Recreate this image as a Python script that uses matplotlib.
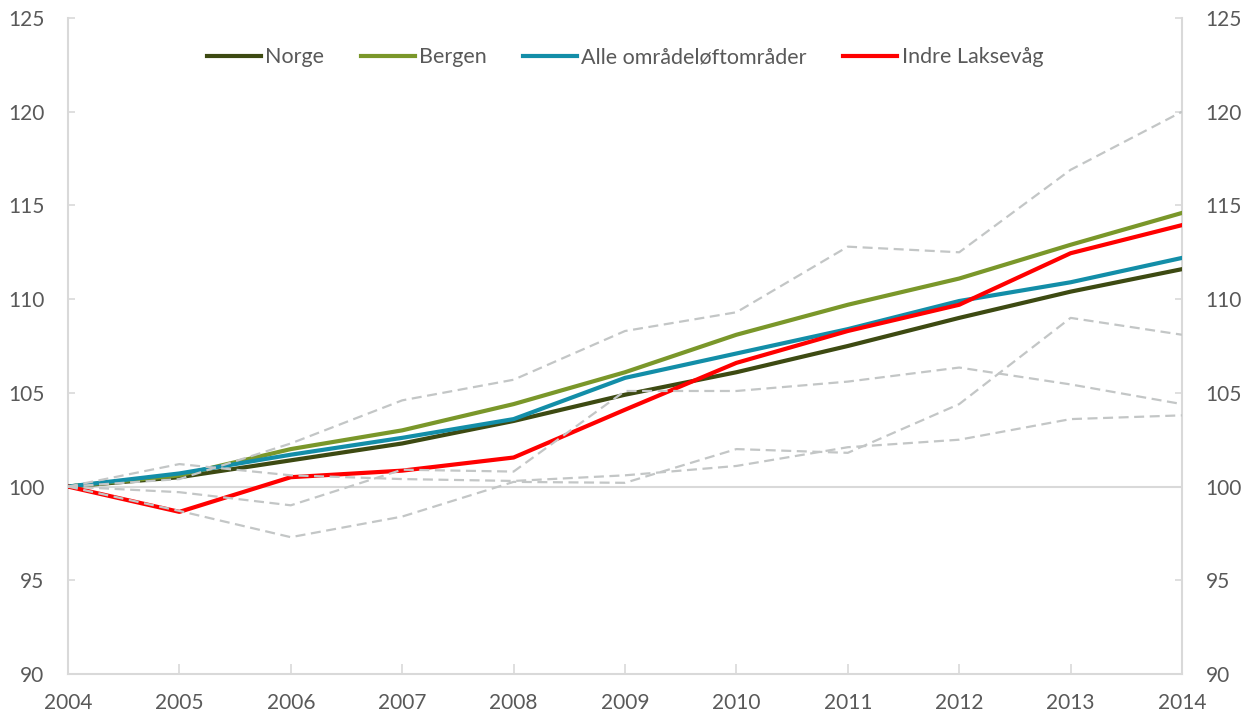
import numpy as np
import matplotlib.pyplot as plt

# years on the x axis
years = [2004, 2005, 2006, 2007, 2008, 2009, 2010, 2011, 2012, 2013, 2014]

# index values (2004 = 100)
norge = [100, 100.5, 101.4, 102.3, 103.5, 104.9, 106.1, 107.5, 109.0, 110.4, 111.6]
bergen = [100, 100.6, 102.0, 103.0, 104.4, 106.1, 108.1, 109.7, 111.1, 112.9, 114.6]
alle = [100, 100.7, 101.7, 102.6, 103.6, 105.8, 107.1, 108.4, 109.9, 110.9, 112.2]
indre = [100, 98.65, 100.5, 100.85, 101.55, 104.1, 106.6, 108.3, 109.7, 112.45, 113.95]

# the other areas (grey dashed)
other_a = [100, 101.2, 100.6, 100.4, 100.3, 100.6, 101.1, 102.1, 102.5, 103.6, 103.8]
other_b = [100, 99.7, 99.0, 100.9, 100.8, 105.1, 105.1, 105.6, 106.35, 105.45, 104.4]
other_c = [100, 98.7, 97.3, 98.4, 100.25, 100.2, 102.0, 101.8, 104.4, 109.0, 108.1]
other_d = [100, 100.4, 102.3, 104.6, 105.7, 108.3, 109.3, 112.8, 112.5, 116.9, 120.0]

y_ticks = [90, 95, 100, 105, 110, 115, 120, 125]

plt.rcParams['font.family'] = ['Lato', 'DejaVu Sans']

fig = plt.figure(figsize=(12.54, 7.2), dpi=100)
ax = fig.add_axes([68 / 1254, 1 - 674 / 720, (1182 - 68) / 1254, (674 - 18) / 720])

grid_col = '#D9D9D9'
ax.axhline(100, color=grid_col, lw=1.5, zorder=1)

# main series
ax.plot(years, norge, color='#3D4A12', lw=3, label='Norge', zorder=3)
ax.plot(years, bergen, color='#7A972A', lw=3, label='Bergen', zorder=3)
ax.plot(years, alle, color='#138EA8', lw=3, label='Alle områdeløftområder', zorder=3)
ax.plot(years, indre, color='#FF0000', lw=3, label='Indre Laksevåg', zorder=3)

# grey dashed lines drawn on top
for s in [other_a, other_b, other_c, other_d]:
    ax.plot(years, s, color='#C3C6C6', lw=1.6, ls=(0, (4.5, 2.5)), zorder=4)

ax.set_xlim(2004, 2014)
ax.set_ylim(90, 125)
ax.set_xticks(years)
ax.set_yticks(y_ticks)

for side in ['left', 'right', 'bottom']:
    ax.spines[side].set_color(grid_col)
    ax.spines[side].set_linewidth(1.5)
ax.spines['top'].set_visible(False)

ax.tick_params(axis='y', direction='in', length=5, width=1.2, color=grid_col,
               labelsize=15, labelcolor='#595959', pad=17, left=True, right=True,
               labelleft=True, labelright=True)
ax.tick_params(axis='x', direction='in', length=7, width=1.2, color=grid_col,
               labelsize=15, labelcolor='#595959', pad=14)

leg = ax.legend(loc='upper center', bbox_to_anchor=(0.5, 0.985), ncol=4, frameon=False,
                fontsize=15.5, handlelength=2.5, handletextpad=0.2, columnspacing=1.7)
for t in leg.get_texts():
    t.set_color('#595959')

fig.savefig('out.png', dpi=100)
